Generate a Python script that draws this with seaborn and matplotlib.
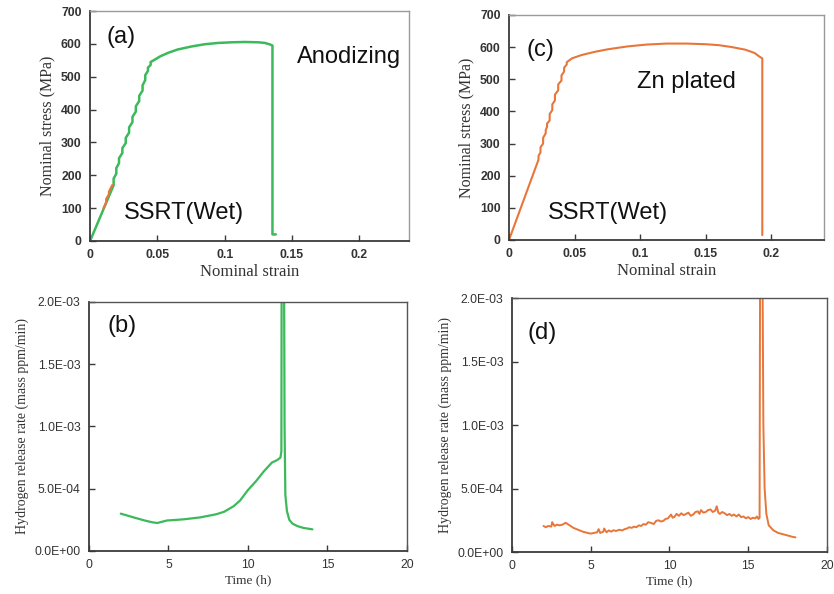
import numpy as np
import pandas as pd
import matplotlib
matplotlib.use("Agg")
import matplotlib.pyplot as plt
import seaborn as sns

# ---------------- data ----------------
# (a) Anodizing stress-strain
strain_a = [0, 0.0175, 0.0175, 0.0195, 0.0195, 0.0215, 0.0215, 0.0240, 0.0240, 0.0265,
            0.0265, 0.0290, 0.0290, 0.0315, 0.0315, 0.0340, 0.0340, 0.0365, 0.0365, 0.0390,
            0.0390, 0.0410, 0.0410, 0.0430, 0.0430, 0.0450, 0.0450, 0.048, 0.052, 0.058,
            0.065, 0.075, 0.085, 0.095, 0.105, 0.115, 0.125, 0.130, 0.134, 0.1355,
            0.1355, 0.138]
stress_a = [0, 170, 190, 205, 222, 237, 252, 268, 283, 298,
            314, 330, 346, 362, 378, 394, 410, 426, 442, 458,
            474, 490, 505, 518, 528, 536, 545, 552, 562, 573,
            583, 592, 599, 603, 605, 606, 605, 603, 598, 595,
            20, 20]
# small orange fragment in (a)
strain_a2 = [0.0100, 0.0120, 0.0120, 0.0140, 0.0140, 0.0165]
stress_a2 = [100, 118, 128, 142, 150, 170]

# (c) Zn plated stress-strain
strain_c = [0, 0.0225, 0.0225, 0.024, 0.024, 0.026, 0.026, 0.028, 0.028, 0.029,
            0.029, 0.031, 0.031, 0.033, 0.033, 0.035, 0.035, 0.0375, 0.0375, 0.040,
            0.040, 0.042, 0.042, 0.044, 0.044, 0.048, 0.055, 0.065, 0.075, 0.090,
            0.105, 0.120, 0.135, 0.150, 0.160, 0.170, 0.180, 0.187, 0.191, 0.193, 0.193]
stress_c = [0, 250, 262, 272, 288, 300, 318, 332, 342, 352,
            362, 372, 392, 404, 422, 434, 452, 466, 484, 496,
            512, 524, 536, 546, 553, 565, 575, 585, 593, 602,
            608, 611, 611, 609, 606, 600, 592, 582, 570, 565, 15]

# (b) hydrogen release, anodizing (mass ppm/min)
time_b = [2.0, 2.8, 3.5, 4.0, 4.3, 4.9, 5.5, 6.0, 7.0, 8.0, 8.5, 9.1, 9.5, 10.0,
          10.5, 11.0, 11.5, 11.83, 12.04, 12.1, 12.12, 12.26, 12.3, 12.35, 12.45,
          12.6, 12.8, 13.1, 13.5, 14.05]
rate_b = [3.0e-4, 2.7e-4, 2.45e-4, 2.3e-4, 2.25e-4, 2.45e-4, 2.5e-4, 2.55e-4, 2.7e-4,
          2.95e-4, 3.15e-4, 3.6e-4, 4.05e-4, 4.9e-4, 5.6e-4, 6.4e-4, 7.1e-4, 7.3e-4,
          7.5e-4, 8.0e-4, 2.6e-3, 2.6e-3, 1.0e-3, 4.5e-4, 3.2e-4, 2.5e-4, 2.2e-4,
          2.0e-4, 1.85e-4, 1.74e-4]

# (d) hydrogen release, Zn plated (mass ppm/min)
time_d = [2.0, 2.15, 2.3, 2.5, 2.55, 2.7, 2.85, 3.0, 3.2, 3.4, 3.6, 3.9, 4.2, 4.5,
          4.8, 5.0, 5.2, 5.4, 5.5, 5.6, 5.8, 5.85, 6.0, 6.15, 6.3, 6.45, 6.6, 6.8,
          7.0, 7.15, 7.3, 7.45, 7.6, 7.75, 7.9, 8.05, 8.2, 8.35, 8.5, 8.65, 8.8,
          9.0, 9.15, 9.3, 9.45, 9.6, 9.75, 9.9, 10.1, 10.2, 10.3, 10.45, 10.6,
          10.75, 10.9, 11.05, 11.2, 11.35, 11.5, 11.65, 11.8, 11.9, 12.0, 12.15,
          12.3, 12.45, 12.6, 12.75, 12.9, 13.0, 13.1, 13.2, 13.35, 13.5, 13.65,
          13.8, 13.95, 14.1, 14.25, 14.4, 14.55, 14.7, 14.85, 15.0, 15.15, 15.3,
          15.45, 15.55, 15.65, 15.72, 15.76, 15.88, 15.96, 16.04, 16.15, 16.3,
          16.6, 16.9, 17.2, 17.5, 17.8, 18.0]
rate_d = [2.05e-4, 1.95e-4, 2.05e-4, 2.0e-4, 2.35e-4, 2.05e-4, 2.15e-4, 2.1e-4, 2.15e-4,
          2.3e-4, 2.15e-4, 1.9e-4, 1.75e-4, 1.6e-4, 1.5e-4, 1.45e-4, 1.5e-4, 1.55e-4,
          1.8e-4, 1.5e-4, 1.6e-4, 1.85e-4, 1.55e-4, 1.7e-4, 1.6e-4, 1.72e-4, 1.65e-4,
          1.75e-4, 1.7e-4, 1.8e-4, 1.85e-4, 1.95e-4, 1.9e-4, 2.0e-4, 1.95e-4, 2.1e-4,
          2.05e-4, 2.2e-4, 2.15e-4, 2.35e-4, 2.3e-4, 2.2e-4, 2.45e-4, 2.5e-4, 2.4e-4,
          2.45e-4, 2.6e-4, 2.65e-4, 2.95e-4, 2.7e-4, 2.75e-4, 3.0e-4, 2.85e-4, 3.05e-4,
          2.9e-4, 3.0e-4, 3.1e-4, 2.85e-4, 2.95e-4, 3.15e-4, 3.2e-4, 3.0e-4, 3.3e-4,
          3.1e-4, 3.15e-4, 3.3e-4, 3.35e-4, 3.15e-4, 3.25e-4, 3.6e-4, 3.1e-4, 3.0e-4,
          3.15e-4, 3.05e-4, 2.9e-4, 3.0e-4, 2.85e-4, 2.95e-4, 2.8e-4, 2.95e-4, 2.75e-4,
          2.8e-4, 2.65e-4, 2.75e-4, 2.6e-4, 2.7e-4, 2.65e-4, 2.8e-4, 2.6e-4, 2.7e-4,
          2.8e-3, 2.8e-3, 1.0e-3, 5.0e-4, 3.0e-4, 2.1e-4, 1.7e-4, 1.5e-4, 1.4e-4,
          1.3e-4, 1.2e-4, 1.15e-4]

stress_ticks = [0, 100, 200, 300, 400, 500, 600, 700]
strain_ticks = [0, 0.05, 0.1, 0.15, 0.2]
strain_ticklabels = ["0", "0.05", "0.1", "0.15", "0.2"]
time_ticks = [0, 5, 10, 15, 20]
rate_ticks = [0, 5e-4, 1e-3, 1.5e-3, 2e-3]
rate_ticklabels = ["0.0E+00", "5.0E-04", "1.0E-03", "1.5E-03", "2.0E-03"]

GREEN = "#3cb95a"
ORANGE = "#e8763a"

# ---------------- figure ----------------
sns.set_style("white")
plt.rcParams['font.family'] = ['Liberation Sans', 'DejaVu Sans']

fig = plt.figure(figsize=(8.34, 5.94), dpi=100)
ax_a = fig.add_axes([0.108, 0.5943, 0.3825, 0.387])
ax_c = fig.add_axes([0.6103, 0.596, 0.3777, 0.3788])
ax_b = fig.add_axes([0.1067, 0.0724, 0.3813, 0.4192])
ax_d = fig.add_axes([0.6139, 0.0707, 0.3777, 0.4276])

serif = ['Liberation Serif', 'DejaVu Serif']

def style_axes(ax, top):
    for s in ['left', 'bottom']:
        ax.spines[s].set_color('#3a3a3a')
        ax.spines[s].set_linewidth(1.3)
    for s in ['top', 'right']:
        ax.spines[s].set_color('#9a9a9a' if top else '#555555')
        ax.spines[s].set_linewidth(1.0)
    ax.tick_params(direction='in', length=4, width=1, color='#3a3a3a',
                   bottom=True, left=True, pad=6)

# (a)
sns.lineplot(x=strain_a, y=stress_a, ax=ax_a, color=GREEN, lw=1.8, sort=False, estimator=None)
sns.lineplot(x=strain_a2, y=stress_a2, ax=ax_a, color=ORANGE, lw=1.6, sort=False, estimator=None)
# (c)
sns.lineplot(x=strain_c, y=stress_c, ax=ax_c, color=ORANGE, lw=1.5, sort=False, estimator=None)
# (b)
sns.lineplot(x=time_b, y=rate_b, ax=ax_b, color=GREEN, lw=1.6, sort=False, estimator=None)
# (d)
sns.lineplot(x=time_d, y=rate_d, ax=ax_d, color=ORANGE, lw=1.4, sort=False, estimator=None)

for ax, xmax in [(ax_a, 0.237), (ax_c, 0.24)]:
    style_axes(ax, True)
    ax.set_xlim(0, xmax)
    ax.set_ylim(0, 700)
    ax.set_xticks(strain_ticks)
    ax.set_xticklabels(strain_ticklabels)
    ax.set_yticks(stress_ticks)
    ax.set_yticklabels([str(v) for v in stress_ticks])
    for lab in ax.get_xticklabels() + ax.get_yticklabels():
        lab.set_fontsize(8.8)
        lab.set_fontweight('bold')
        lab.set_color('#333333')
    ax.set_xlabel("Nominal strain", family=serif, fontsize=12, color='#333333', labelpad=2)
    ax.set_ylabel("Nominal stress (MPa)", family=serif, fontsize=11.5, color='#333333', labelpad=4)

for ax in [ax_b, ax_d]:
    style_axes(ax, False)
    ax.set_xlim(0, 20)
    ax.set_ylim(0, 2e-3)
    ax.set_xticks(time_ticks)
    ax.set_xticklabels([str(v) for v in time_ticks])
    ax.set_yticks(rate_ticks)
    ax.set_yticklabels(rate_ticklabels)
    for lab in ax.get_xticklabels() + ax.get_yticklabels():
        lab.set_fontsize(8.8)
        lab.set_color('#333333')
    ax.set_xlabel("Time (h)", family=serif, fontsize=9.5, color='#333333', labelpad=2)
    ax.set_ylabel("Hydrogen release rate (mass ppm/min)", family=serif, fontsize=10,
                  color='#333333', labelpad=4)

txt = dict(fontsize=17, color='#111111', va='center', ha='left')
ax_a.text(0.053, 0.887, "(a)", transform=ax_a.transAxes, **txt)
ax_a.text(0.649, 0.80, "Anodizing", transform=ax_a.transAxes, **txt)
ax_a.text(0.107, 0.122, "SSRT(Wet)", transform=ax_a.transAxes, **txt)
ax_c.text(0.057, 0.844, "(c)", transform=ax_c.transAxes, **txt)
ax_c.text(0.406, 0.702, "Zn plated", transform=ax_c.transAxes, **txt)
ax_c.text(0.124, 0.12, "SSRT(Wet)", transform=ax_c.transAxes, **txt)
ax_b.text(0.057, 0.904, "(b)", transform=ax_b.transAxes, **txt)
ax_d.text(0.048, 0.862, "(d)", transform=ax_d.transAxes, **txt)

fig.savefig("out.png", dpi=100)
